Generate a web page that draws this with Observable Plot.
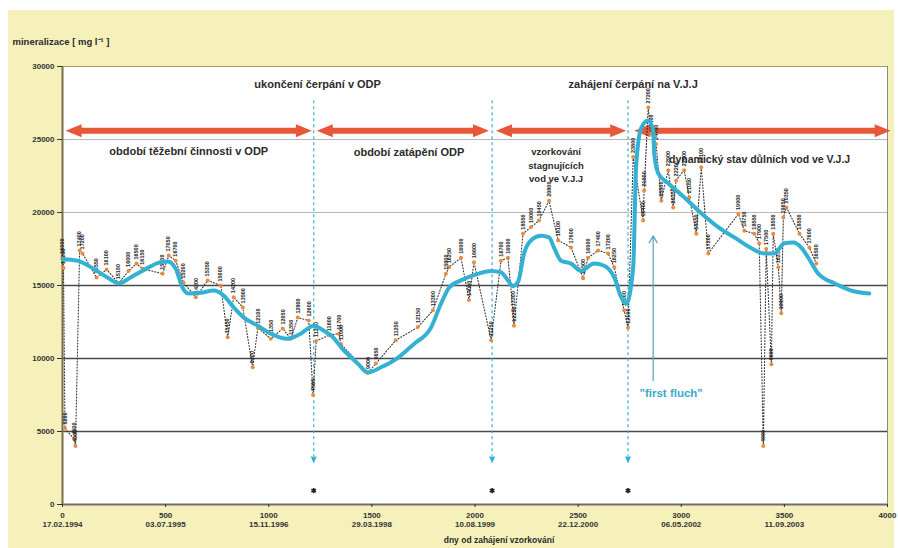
<!DOCTYPE html>
<html>
<head>
<meta charset="utf-8">
<script src="https://cdn.jsdelivr.net/npm/d3@7"></script>
<script src="https://cdn.jsdelivr.net/npm/@observablehq/plot@0.6"></script>
<style>
  html, body { margin: 0; padding: 0; background: #fff; }
  #chart { width: 898px; height: 548px; }
</style>
</head>
<body>
<div id="chart"></div>
<script>
// Mineralisation of mine water [mg/l] against days since sampling began.

// Individual samples: [day, mineralisation]
const samples = [
  [0,16900],[5,16200],[12,5200],[55,4500],[63,4000],[83,17400],[97,17200],[165,15550],
  [214,16100],[272,15150],[320,16000],[359,16500],[388,16150],[485,15800],[515,17050],
  [549,16700],[587,15200],[646,14200],[704,15350],[767,15000],[801,11450],[830,14200],
  [874,13500],[922,9400],[947,12100],[1010,11350],[1068,12050],[1107,11350],[1141,12800],
  [1194,12600],[1215,7500],[1230,11200],[1291,11600],[1340,11700],[1350,11000],[1480,9000],
  [1519,9650],[1616,11250],[1723,12150],[1796,13300],[1859,15800],[1874,16250],[1932,16900],
  [1971,14000],[1995,16600],[2078,11250],[2126,16700],[2160,16900],[2184,13300],[2189,12250],
  [2233,18550],[2272,19000],[2310,19450],[2359,20800],[2403,18100],[2466,17600],[2524,15500],
  [2548,16900],[2597,17400],[2645,17200],[2675,16250],[2723,13300],[2742,12100],[2767,23800],
  [2815,19450],[2820,21500],[2840,27200],[2854,25400],[2878,24700],[2903,20800],[2937,22900],
  [2961,20350],[2975,22200],[3014,22900],[3039,21050],[3073,18550],[3097,23100],[3131,17200],
  [3277,19900],[3306,18750],[3354,18550],[3378,17900],[3398,4000],[3412,17500],[3437,9600],
  [3446,18550],[3471,16250],[3485,13100],[3495,19650],[3510,20350],[3573,18550],[3621,17600],
  [3655,16500]
];

// Smoothed trend: [day, mineralisation]
const trend = [
  [0,16800],[73,16700],[150,16150],[218,15550],[272,15150],[330,15550],[393,16050],[476,16600],
  [510,16650],[549,16150],[582,14850],[612,14450],[670,14500],[733,14650],[782,14300],[830,13500],
  [879,12800],[947,12250],[1010,11700],[1092,11350],[1155,11700],[1218,12250],[1267,11900],
  [1301,11600],[1364,10550],[1432,9650],[1480,9050],[1544,9400],[1626,10050],[1704,11000],
  [1786,12100],[1835,13750],[1874,14850],[1932,15350],[2014,15800],[2078,16000],[2126,15900],
  [2160,15350],[2184,14950],[2209,15250],[2238,17200],[2272,18100],[2320,18400],[2359,18300],
  [2383,17600],[2417,16700],[2466,16500],[2514,16000],[2578,16500],[2626,16350],[2675,15550],
  [2709,14200],[2733,13750],[2767,16250],[2781,23100],[2806,25800],[2840,26300],[2864,25600],
  [2869,24050],[2888,22700],[2937,22000],[3014,21050],[3097,19950],[3179,19000],[3257,18300],
  [3340,17550],[3403,17200],[3451,17200],[3500,17900],[3543,17950],[3582,17600],[3616,16900],
  [3665,15800],[3743,15150],[3825,14650],[3912,14450]
];

// Axis ticks
const xTicks = [0, 500, 1000, 1500, 2000, 2500, 3000, 3500, 4000];
const xDates = ["17.02.1994", "03.07.1995", "15.11.1996", "29.03.1998", "10.08.1999",
                "22.12.2000", "06.05.2002", "11.09.2003", ""];
const yTicks = [0, 5000, 10000, 15000, 20000, 25000, 30000];
const majorGrid = [5000, 10000, 15000];
const minorGrid = [20000, 25000];

// Events (day) and their captions
const eventDays = [1218, 2083, 2742];
const eventTitles = [
  {day: 1237, value: 28770, text: "ukončení čerpání v ODP"},
  {day: 2767, value: 28770, text: "zahájení čerpání na V.J.J"}
];

// Periods between the events: [first day, last day]
const periodSpans = [[15, 1209], [1233, 2068], [2102, 2733], [2772, 4015]];
const periodLabels = [
  {day: 612, value: 24300, text: "období těžební činnosti v ODP", size: 11},
  {day: 1680, value: 24250, text: "období zatápění ODP", size: 11},
  {day: 2393, value: 23300, text: "vzorkování\nstagnujících\nvod ve V.J.J", size: 9.5},
  {day: 3380, value: 23700, text: "dynamický stav důlních vod ve V.J.J", size: 10.5}
];
const flushArrow = {day: 2864, from: 8500, to: 18400};
const flushLabel = {day: 2951, value: 7600, text: "\"first fluch\""};

const samplePts = samples.map(([day, value]) => ({day, value}));
const trendPts = trend.map(([day, value]) => ({day, value}));

// filled arrow head with its tip at the origin, pointing right
const head = (L, W) => ({
  draw(ctx) { ctx.moveTo(0, 0); ctx.lineTo(-L, -W / 2); ctx.lineTo(-L, W / 2); ctx.closePath(); }
});
const bigHead = head(16, 13);
const smallHead = head(7, 6);

const spanY = 25600;
const spanLines = periodSpans.map(([a, b]) => ({x1: a + 55, x2: b - 55}));
const spanHeads = periodSpans.flatMap(([a, b]) => [{x: a, rot: 180}, {x: b, rot: 0}]);

const red = "#e9573b";
const cyan = "#33b1d3";
const ink = "#2b2b2b";
const font = "'Liberation Sans', Arial, sans-serif";

const chart = Plot.plot({
  width: 898,
  height: 548,
  marginLeft: 62,
  marginRight: 11,
  marginTop: 66,
  marginBottom: 44,
  style: {
    background: "linear-gradient(to bottom, #fff 0, #fff 10px, transparent 10px), linear-gradient(to right, #fff 0, #fff 8px, #f6f1bb 8px, #f6f1bb 894px, #fff 894px)",
    fontFamily: font,
    overflow: "visible"
  },
  x: {domain: [0, 4000], axis: null},
  y: {domain: [0, 30000], axis: null},
  marks: [
    Plot.frame({fill: "white", stroke: "none"}),
    Plot.ruleY(minorGrid, {stroke: "#b8b8b8", strokeWidth: 1}),
    Plot.ruleY(majorGrid, {stroke: "#4a4a4a", strokeWidth: 1.6}),

    // frame lines
    Plot.ruleY([30000], {stroke: "#a69e6a", strokeWidth: 1.2}),
    Plot.ruleX([4000], {stroke: "#8a8a8a", strokeWidth: 1}),
    Plot.ruleY([0], {stroke: "#6e6e6e", strokeWidth: 2}),
    Plot.ruleX([0], {stroke: "#74704c", strokeWidth: 2}),

    // axes
    Plot.axisY(yTicks, {
      anchor: "left", tickSize: 5, tickPadding: 3, fontSize: 8, fontWeight: "bold",
      color: "#333", tickFormat: d => String(d), label: null
    }),
    Plot.axisX(xTicks, {
      anchor: "bottom", tickSize: 3, tickPadding: 4, fontSize: 8, fontWeight: "bold",
      color: "#333", lineHeight: 1.15, label: null,
      tickFormat: (d, i) => xDates[i] ? `${d}\n${xDates[i]}` : String(d)
    }),
    Plot.text(["mineralizace [ mg l⁻¹ ]"], {
      frameAnchor: "top-left", dx: -50, dy: -28, textAnchor: "start",
      fontSize: 9.5, fontWeight: "bold", fill: ink
    }),
    Plot.text(["dny od zahájení vzorkování"], {
      frameAnchor: "bottom", dx: 24, dy: 38, fontSize: 8.5, fontWeight: "bold", fill: ink
    }),

    // event markers
    Plot.ruleX(eventDays, {y1: 27650, y2: 3300, stroke: cyan, strokeWidth: 1.2, strokeDasharray: "3,3"}),
    Plot.dot(eventDays, {x: d => d, y: 2800, symbol: smallHead, rotate: 90, fill: cyan, stroke: "none", r: 3}),
    Plot.dot(eventDays, {x: d => d, y: 950, symbol: "asterisk", r: 2.5, stroke: "#222", strokeWidth: 1.6}),
    Plot.text(eventTitles, {x: "day", y: "value", text: "text", fontSize: 11, fontWeight: "bold", fill: ink}),

    // period arrows
    Plot.link(spanLines, {x1: "x1", x2: "x2", y1: spanY, y2: spanY, stroke: red, strokeWidth: 6}),
    Plot.dot(spanHeads, {x: "x", y: spanY, rotate: "rot", symbol: bigHead, fill: red, stroke: "none", r: 6}),

    // period captions
    Plot.text(periodLabels, {
      x: "day", y: "value", text: "text", fontSize: "size", fontWeight: "bold", fill: ink,
      lineHeight: 1.45, stroke: "white", strokeWidth: 5, paintOrder: "stroke"
    }),

    // individual samples
    Plot.line(samplePts, {x: "day", y: "value", stroke: "#333", strokeWidth: 1.1, strokeDasharray: "1,2"}),
    Plot.dot(samplePts, {x: "day", y: "value", r: 2, fill: "#ee8a3c", stroke: "none"}),
    Plot.text(samplePts, {
      x: "day", y: "value", text: d => String(d.value), rotate: -90, textAnchor: "start",
      dy: -4, fontSize: 5.5, fontWeight: "bold", fill: "#262626"
    }),

    // smoothed trend
    Plot.line(trendPts, {x: "day", y: "value", stroke: cyan, strokeWidth: 4, curve: "monotone-x", strokeLinejoin: "round"}),

    // first flush
    Plot.arrow([flushArrow], {
      x1: "day", x2: "day", y1: "from", y2: "to", stroke: "#5ea9c2", strokeWidth: 1.3, headLength: 9
    }),
    Plot.text([flushLabel], {x: "day", y: "value", text: "text", fontSize: 11.5, fontWeight: "bold", fill: "#3aa9cc"})
  ]
});

document.getElementById("chart").append(chart);
</script>
</body>
</html>
